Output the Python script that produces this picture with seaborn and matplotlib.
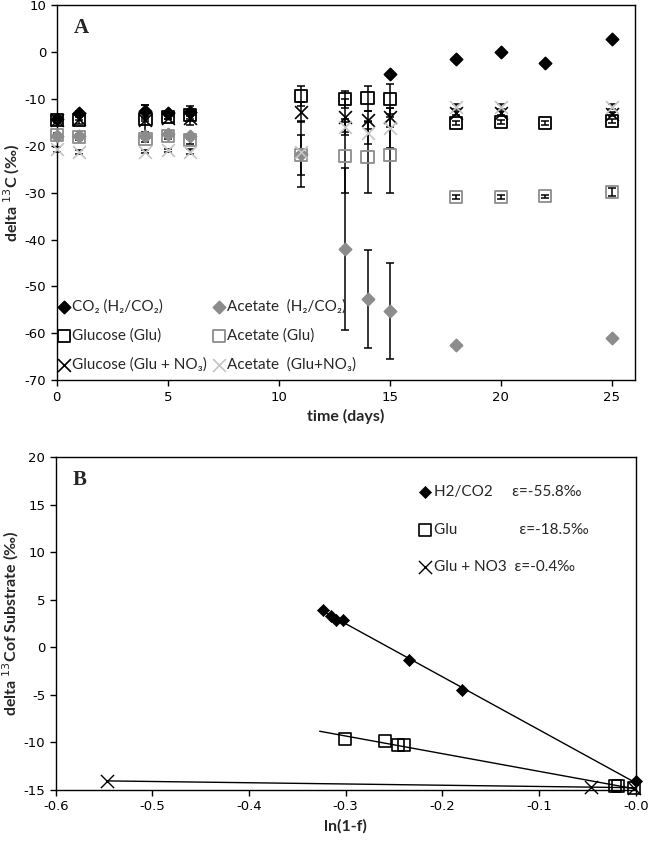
import numpy as np
import matplotlib
matplotlib.use("Agg")
import matplotlib.pyplot as plt
import seaborn as sns

# ---- Panel A: delta13C over time ----
co2_days = [0, 1, 4, 5, 6, 15, 18, 20, 22, 25]
co2 = [-14.2, -13.0, -12.6, -13.0, -12.9, -4.7, -1.5, 0.0, -2.4, 2.8]
co2_err = [0.5, 0.4, 1.2, 0.5, 0.6, 0, 0, 0, 0, 0]

ace_h2_days = [0, 1, 4, 5, 6, 11, 13, 14, 15, 18, 25]
ace_h2 = [-17.9, -18.0, -18.0, -17.5, -18.0, -21.8, -42.0, -52.7, -55.3, -62.5, -61.0]
ace_h2_err = [0.5, 0.4, 0.5, 0.4, 0.5, 7.0, 17.3, 10.5, 10.2, 0, 0]

glu_days = [0, 1, 4, 5, 6, 11, 13, 14, 15, 18, 20, 22, 25]
glu = [-14.5, -14.5, -14.2, -13.8, -13.5, -9.4, -10.1, -9.9, -10.1, -15.2, -15.0, -15.2, -14.8]
glu_err = [0.5, 0.8, 2.8, 0.6, 2.0, 2.1, 1.8, 2.6, 3.2, 0.4, 0.4, 0.4, 0.4]

ace_glu = [-17.7, -18.2, -18.5, -18.0, -18.7, -22.0, -22.2, -22.4, -22.0, -31.0, -31.0, -30.8, -29.9]
ace_glu_err = [0.5, 0.5, 0.6, 0.5, 1.0, 4.3, 7.9, 7.7, 8.1, 0.4, 0.4, 0.4, 0.8]

nit_days = [0, 1, 4, 5, 6, 11, 13, 14, 15, 18, 20, 25]
nit_glu = [-14.5, -14.2, -14.5, -14.0, -14.0, -12.8, -13.9, -14.5, -13.9, -13.0, -13.0, -13.2]
nit_glu_err = [0.3, 0.3, 0.3, 0.3, 0.3, 2.2, 3.8, 2.0, 2.0, 0.5, 0.5, 0.5]

ace_nit = [-20.8, -21.3, -21.3, -21.0, -21.3, -21.3, -16.0, -17.3, -16.2, -11.7, -11.7, -11.7]
ace_nit_err = [0.5, 0.4, 0.3, 0.3, 0.5, 0.5, 1.0, 2.4, 4.3, 0.5, 0.5, 0.5]

# ---- Panel B: Rayleigh plot ----
h2_lnf = [-0.323, -0.315, -0.310, -0.303, -0.2345, -0.180, 0.0]
h2_d13 = [3.9, 3.3, 2.9, 2.9, -1.3, -4.5, -14.1]
glub_lnf = [-0.301, -0.259, -0.246, -0.240, -0.021, -0.018, -0.002]
glub_d13 = [-9.6, -9.9, -10.3, -10.3, -14.6, -14.6, -14.8]
nitb_lnf = [-0.547, -0.046, -0.002]
nitb_d13 = [-14.05, -14.66, -14.8]
# trendline range (Excel extends the H2/CO2 and Glu fits back a bit)
fit_from = [-0.327, -0.327, -0.547]
fit_to = [0.0, 0.0, 0.0]

sns.set_style("white")
plt.rcParams["font.family"] = ["DejaVu Sans"]
plt.rcParams["axes.unicode_minus"] = False
label_font = ["Lato", "DejaVu Sans"]

fig = plt.figure(figsize=(6.5, 8.43), dpi=100)
axA = fig.add_axes([0.0872, 0.549, 0.8898, 0.445])
axB = fig.add_axes([0.0857, 0.0629, 0.8923, 0.395])

grey = "#8c8c8c"
light = "#c4c4c4"

# error bars first (Excel draws them in black)
for xs, ys, es in [(co2_days, co2, co2_err), (ace_h2_days, ace_h2, ace_h2_err),
                   (glu_days, glu, glu_err), (glu_days, ace_glu, ace_glu_err),
                   (nit_days, nit_glu, nit_glu_err), (nit_days, ace_nit, ace_nit_err)]:
    axA.errorbar(xs, ys, yerr=es, fmt="none", ecolor="black", elinewidth=1.1,
                 capsize=3, capthick=1.1, clip_on=False, zorder=2)

series = [
    (co2_days, co2, "D", "black", "black", 38, "CO\u2082 (H\u2082/CO\u2082)"),
    (glu_days, glu, "s", "none", "black", 75, "Glucose (Glu)"),
    (nit_days, nit_glu, "x", "black", "black", 85, "Glucose (Glu + NO\u2083)"),
    (ace_h2_days, ace_h2, "D", grey, grey, 38, "Acetate  (H\u2082/CO\u2082)"),
    (glu_days, ace_glu, "s", "none", grey, 75, "Acetate (Glu)"),
    (nit_days, ace_nit, "x", light, light, 85, "Acetate  (Glu+NO\u2083)"),
]
for xs, ys, mk, fc, ec, s, lab in series:
    if mk == "x":
        sns.scatterplot(x=xs, y=ys, marker=mk, s=s, color=ec, linewidth=1.2,
                        label=lab, ax=axA, clip_on=False, zorder=3)
    else:
        sns.scatterplot(x=xs, y=ys, marker=mk, s=s, facecolor=fc, edgecolor=ec,
                        linewidth=1.3, label=lab, ax=axA, clip_on=False, zorder=3)

axA.set_xlim(0, 26.05)
axA.set_ylim(-70, 10)
axA.set_xticks(range(0, 26, 5))
axA.set_yticks(range(-70, 11, 10))
axA.set_xlabel("time (days)", fontweight="bold", fontsize=11.5, family=label_font, labelpad=4)
axA.set_ylabel("delta $^{13}$C (\u2030)", fontweight="bold", fontsize=11.5,
               family=label_font, labelpad=2)
axA.text(0.03, 0.94, "A", transform=axA.transAxes, fontsize=15, fontweight="bold",
         family="Liberation Serif", va="center")
axA.legend(loc="lower left", ncol=2, frameon=False, prop={"family": label_font, "size": 11},
           handletextpad=0.05, columnspacing=0.25, labelspacing=0.95, handlelength=1.0,
           borderaxespad=0.15, bbox_to_anchor=(-0.015, 0.0))

# ---- Panel B ----
for xs, ys, x0, x1 in [(h2_lnf, h2_d13, fit_from[0], fit_to[0]),
                       (glub_lnf, glub_d13, fit_from[1], fit_to[1]),
                       (nitb_lnf, nitb_d13, fit_from[2], fit_to[2])]:
    slope, icpt = np.polyfit(xs, ys, 1)
    fx = np.array([x0, x1])
    sns.lineplot(x=fx, y=slope * fx + icpt, ax=axB, color="black", lw=1.0, zorder=2)

sns.scatterplot(x=h2_lnf, y=h2_d13, marker="D", s=38, color="black", edgecolor="black",
                label="H2/CO2     \u03b5=-55.8\u2030", ax=axB, clip_on=False, zorder=3)
sns.scatterplot(x=glub_lnf, y=glub_d13, marker="s", s=75, facecolor="none", edgecolor="black",
                linewidth=1.2, label="Glu                \u03b5=-18.5\u2030", ax=axB, clip_on=False, zorder=3)
sns.scatterplot(x=nitb_lnf, y=nitb_d13, marker="x", s=90, color="black", linewidth=1.0,
                label="Glu + NO3  \u03b5=-0.4\u2030", ax=axB, clip_on=False, zorder=3)

axB.set_xlim(-0.6, 0.0)
axB.set_ylim(-15, 20)
axB.set_xticks(np.arange(-0.6, 0.01, 0.1))
axB.set_xticklabels(["%.1f" % v for v in np.arange(-0.6, 0.01, 0.1)])
axB.set_yticks(range(-15, 21, 5))
axB.set_xlabel("ln(1-f)", fontweight="bold", fontsize=11.5, family=label_font, labelpad=4)
axB.set_ylabel("delta $^{13}$Cof Substrate (\u2030)", fontweight="bold", fontsize=11.5,
               family=label_font, labelpad=2)
axB.text(0.03, 0.93, "B", transform=axB.transAxes, fontsize=15, fontweight="bold",
         family="Liberation Serif", va="center")
axB.legend(loc="upper left", bbox_to_anchor=(0.6, 0.957), frameon=False,
           prop={"family": label_font, "size": 11}, handletextpad=0.1,
           labelspacing=1.55, handlelength=1.0)

for ax in (axA, axB):
    for sp in ax.spines.values():
        sp.set_visible(True)
        sp.set_color("black")
        sp.set_linewidth(1.0)
    ax.tick_params(direction="out", length=4, width=1, labelsize=9.5, colors="black",
                   bottom=True, left=True)
    ax.grid(False)

fig.savefig("out.png", dpi=100)
